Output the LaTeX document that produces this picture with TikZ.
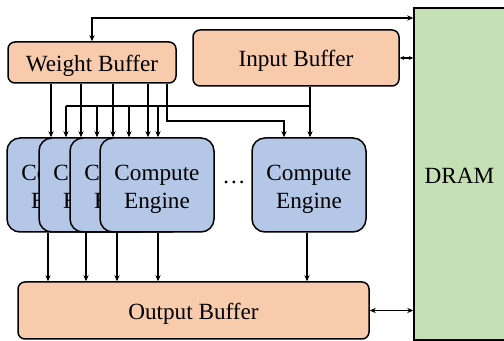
\documentclass[tikz,border=0pt]{standalone}
\usepackage{fontspec}
\setmainfont{Liberation Serif}
\usetikzlibrary{arrows.meta}
\definecolor{orangefill}{HTML}{F8CBAD}
\definecolor{bluefill}{HTML}{B4C7E7}
\definecolor{greenfill}{HTML}{C5E0B4}
\newcommand{\lowertext}[2]{\raisebox{-#1}[\height][\depth]{#2}}
\newcommand{\cetext}{\lowertext{2pt}{\begin{tabular}{@{}c@{}}Compute\\Engine\end{tabular}}}
\begin{document}
\begin{tikzpicture}[x=0.5pt,y=-0.5pt,
  every node/.style={font=\fontsize{11.6}{14}\selectfont},
  bufbox/.style={draw,line width=0.75pt,fill=orangefill,rounded corners=3.5pt,inner sep=0pt},
  cebox/.style={draw,line width=0.75pt,fill=bluefill,rounded corners=6.5pt,inner sep=0pt,
    minimum width=57pt,minimum height=47pt},
  wire/.style={line width=0.65pt},
  arr/.style={wire,-{Stealth[length=3pt,width=2.6pt]}},
  darr/.style={wire,{Stealth[length=3pt,width=2.6pt]}-{Stealth[length=3pt,width=2.6pt]}},
  sarr/.style={wire,{Stealth[length=2.2pt,width=2pt]}-{Stealth[length=2.2pt,width=2pt]}}]
\useasboundingbox (0,0) rectangle (504,341);
% DRAM
\node[draw,line width=0.75pt,fill=greenfill,inner sep=0pt,minimum width=45.5pt,minimum height=166pt] (dram) at (459.5,174) {\lowertext{1pt}{DRAM}};
% buffers
\node[bufbox,minimum width=84pt,minimum height=20.5pt] (wb) at (92,62.5) {\lowertext{1.5pt}{Weight Buffer}};
\node[bufbox,minimum width=103pt,minimum height=28pt] (ib) at (296,58) {\lowertext{1.5pt}{Input Buffer}};
\node[bufbox,minimum width=175.5pt,minimum height=28.5pt] (ob) at (193.5,310.5) {\lowertext{1.5pt}{Output Buffer}};
% compute engines
\node[cebox] (ce1) at (64,185) {\cetext};
\node[cebox] (ce2) at (96,185) {\cetext};
\node[cebox] (ce3) at (127,185) {\cetext};
\node[cebox] (ce4) at (157,185) {\cetext};
\node[cebox] (ce5) at (309,185) {\cetext};
\node[inner sep=0pt] (dots) at (234,182) {\dots};
% helper coordinates
\coordinate (topy) at (0,18);
\coordinate (wbend) at (0,121);
\coordinate (ibus) at (0,106);
\coordinate (wx1) at (51,0);
\coordinate (wx2) at (81,0);
\coordinate (wx3) at (113,0);
\coordinate (wx4) at (148,0);
\coordinate (wx5) at (167,0);
\coordinate (wx6) at (284,0);
\coordinate (ix1) at (66,0);
\coordinate (ix2) at (97,0);
\coordinate (ix3) at (129,0);
\coordinate (ix4) at (158,0);
\coordinate (ix5) at (310,0);
\coordinate (ox1) at (48,0);
\coordinate (ox2) at (86,0);
\coordinate (ox3) at (117,0);
\coordinate (ox4) at (158,0);
\coordinate (ox5) at (307,0);
% DRAM links
\draw[darr] (wb.north) -- (wb.north |- topy) -- (dram.west |- topy);
\draw[sarr] (ib.east) -- (ib.east -| dram.west);
\draw[darr] (ob.east) -- (ob.east -| dram.west);
% weight buffer to engines
\draw[arr] (wx1 |- wb.south) -- (wx1 |- ce1.north);
\draw[arr] (wx2 |- wb.south) -- (wx2 |- ce2.north);
\draw[arr] (wx3 |- wb.south) -- (wx3 |- ce3.north);
\draw[arr] (wx4 |- wb.south) -- (wx4 |- ce4.north);
\draw[arr] (wx5 |- wb.south) -- (wx5 |- wbend) -- (wx6 |- wbend) -- (wx6 |- ce5.north);
% input buffer to engines
\draw[wire] (ix1 |- ibus) -- (ix5 |- ibus);
\draw[arr] (ix5 |- ib.south) -- (ix5 |- ce5.north);
\draw[arr] (ix1 |- ibus) -- (ix1 |- ce1.north);
\draw[arr] (ix2 |- ibus) -- (ix2 |- ce2.north);
\draw[arr] (ix3 |- ibus) -- (ix3 |- ce3.north);
\draw[arr] (ix4 |- ibus) -- (ix4 |- ce4.north);
% engines to output buffer
\draw[arr] (ox1 |- ce1.south) -- (ox1 |- ob.north);
\draw[arr] (ox2 |- ce2.south) -- (ox2 |- ob.north);
\draw[arr] (ox3 |- ce3.south) -- (ox3 |- ob.north);
\draw[arr] (ox4 |- ce4.south) -- (ox4 |- ob.north);
\draw[arr] (ox5 |- ce5.south) -- (ox5 |- ob.north);
\end{tikzpicture}
\end{document}
